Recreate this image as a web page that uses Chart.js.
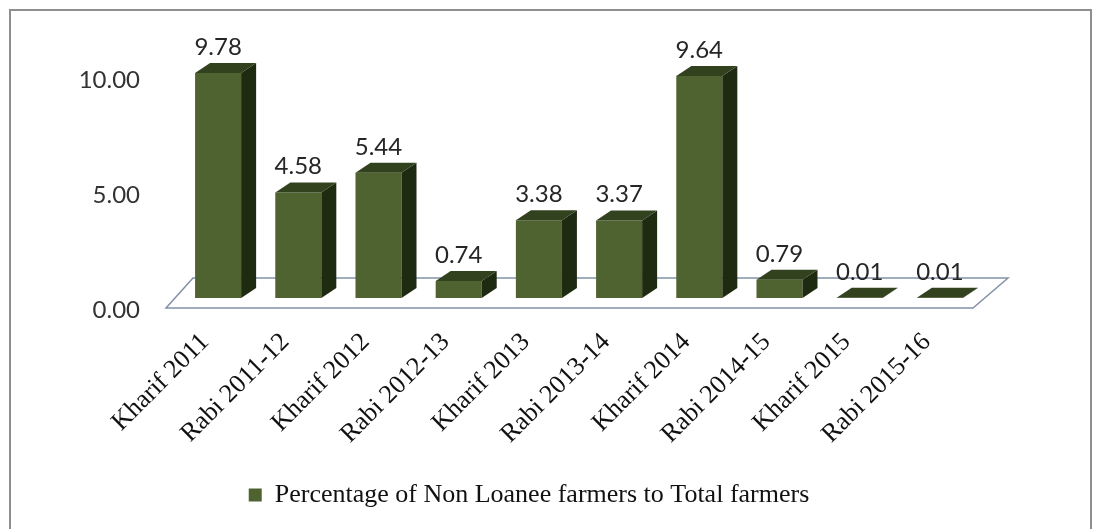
<!DOCTYPE html>
<html>
<head>
<meta charset="utf-8">
<title>Non Loanee farmers</title>
<script src="https://cdn.jsdelivr.net/npm/chart.js@4.4.1/dist/chart.umd.min.js"></script>
<style>
  html, body { margin: 0; padding: 0; background: #fff; }
  #wrap { position: relative; width: 1094px; height: 529px; overflow: hidden; }
  #frame { position: absolute; left: 9px; top: 9px; width: 1083px; height: 540px;
           border: 2px solid #8e8e8e; box-sizing: border-box; }
  #chart { position: absolute; left: 0; top: 0; }
</style>
</head>
<body>
<div id="wrap">
  <div id="frame"></div>
  <canvas id="chart" width="1094" height="529"></canvas>
</div>
<script>
// === DATA ===
var seasons = ['Kharif 2011', 'Rabi 2011-12', 'Kharif 2012', 'Rabi 2012-13', 'Kharif 2013',
               'Rabi 2013-14', 'Kharif 2014', 'Rabi 2014-15', 'Kharif 2015', 'Rabi 2015-16'];
var nonLoaneePct = [9.78, 4.58, 5.44, 0.74, 3.38, 3.37, 9.64, 0.79, 0.01, 0.01];
var pctTicks = [0, 5, 10];
var seriesName = 'Percentage of Non Loanee farmers to Total farmers';

// === LOOK ===
var BAR_FRONT = '#4f6330';
var BAR_SIDE = '#1f2b10';
var BAR_TOP = '#33421e';
var FLOOR_LINE = '#8391a8';
var DEPTH_X = 15, DEPTH_Y = -10;   // extrusion of each column
var NUM_FONT = 'Lato, "Open Sans", sans-serif';
var CAT_FONT = '"Liberation Serif", "Times New Roman", serif';

// Draws the floor plate, the side/top faces of each column and the value labels
var bar3d = {
  id: 'bar3d',
  beforeDatasetsDraw: function(chart) {
    var ctx = chart.ctx, area = chart.chartArea;
    var base = chart.scales.y.getPixelForValue(0);
    ctx.save();
    ctx.beginPath();
    ctx.moveTo(area.left - 12, base + 10);
    ctx.lineTo(area.left + 15, base - 20);
    ctx.lineTo(area.right + 28, base - 20);
    ctx.lineTo(area.right - 7, base + 10);
    ctx.closePath();
    ctx.fillStyle = '#fff';
    ctx.fill();
    ctx.strokeStyle = FLOOR_LINE;
    ctx.lineWidth = 1.5;
    ctx.stroke();
    ctx.restore();
  },
  afterDatasetsDraw: function(chart) {
    var ctx = chart.ctx;
    var meta = chart.getDatasetMeta(0);
    ctx.save();
    meta.data.forEach(function(bar, i) {
      var half = bar.width / 2;
      var l = bar.x - half, r = bar.x + half, t = bar.y, b = bar.base;

      // right side face
      ctx.fillStyle = BAR_SIDE;
      ctx.beginPath();
      ctx.moveTo(r, t);
      ctx.lineTo(r + DEPTH_X, t + DEPTH_Y);
      ctx.lineTo(r + DEPTH_X, b + DEPTH_Y);
      ctx.lineTo(r, b);
      ctx.closePath();
      ctx.fill();

      // top face
      ctx.fillStyle = BAR_TOP;
      ctx.beginPath();
      ctx.moveTo(l, t);
      ctx.lineTo(l + DEPTH_X, t + DEPTH_Y);
      ctx.lineTo(r + DEPTH_X, t + DEPTH_Y);
      ctx.lineTo(r, t);
      ctx.closePath();
      ctx.fill();

      // value label
      ctx.fillStyle = '#262626';
      ctx.font = '24px ' + NUM_FONT;
      ctx.textAlign = 'center';
      ctx.textBaseline = 'middle';
      ctx.fillText(nonLoaneePct[i].toFixed(2), bar.x, t - 26);
    });
    ctx.restore();
  }
};

new Chart(document.getElementById('chart').getContext('2d'), {
  type: 'bar',
  data: {
    labels: seasons,
    datasets: [{
      label: seriesName,
      data: nonLoaneePct,
      backgroundColor: BAR_FRONT,
      borderWidth: 0,
      categoryPercentage: 1,
      barPercentage: 0.574
    }]
  },
  options: {
    responsive: false,
    animation: false,
    devicePixelRatio: 1,
    layout: { padding: { left: 78, right: 114, top: 54, bottom: 11 } },
    plugins: {
      tooltip: { enabled: false },
      legend: {
        position: 'bottom',
        labels: {
          boxWidth: 13, boxHeight: 13, padding: 10, color: '#111',
          font: { family: CAT_FONT, size: 26 }
        }
      }
    },
    scales: {
      x: {
        offset: true,
        grid: { display: false, drawTicks: false },
        border: { display: false },
        ticks: {
          autoSkip: false, minRotation: 45, maxRotation: 45,
          padding: 29, labelOffset: -13, color: '#111',
          font: { family: CAT_FONT, size: 26 }
        },
        afterFit: function(scale) { scale.height = 174; }
      },
      // value scale the columns are drawn on
      y: {
        display: false,
        min: 0, max: 10.6
      },
      // tick labels, dropped to the front edge of the floor
      yTicks: {
        position: 'left',
        min: 0.53, max: 11.13,
        grid: { display: false, drawTicks: false },
        border: { display: false },
        afterBuildTicks: function(scale) {
          scale.ticks = pctTicks.map(function(v) { return { value: v }; });
        },
        ticks: {
          padding: 38, color: '#333',
          font: { family: NUM_FONT, size: 24 },
          callback: function(v) { return Number(v).toFixed(2); }
        },
        afterFit: function(scale) { scale.width = 100; }
      }
    }
  },
  plugins: [bar3d]
});
</script>
</body>
</html>
